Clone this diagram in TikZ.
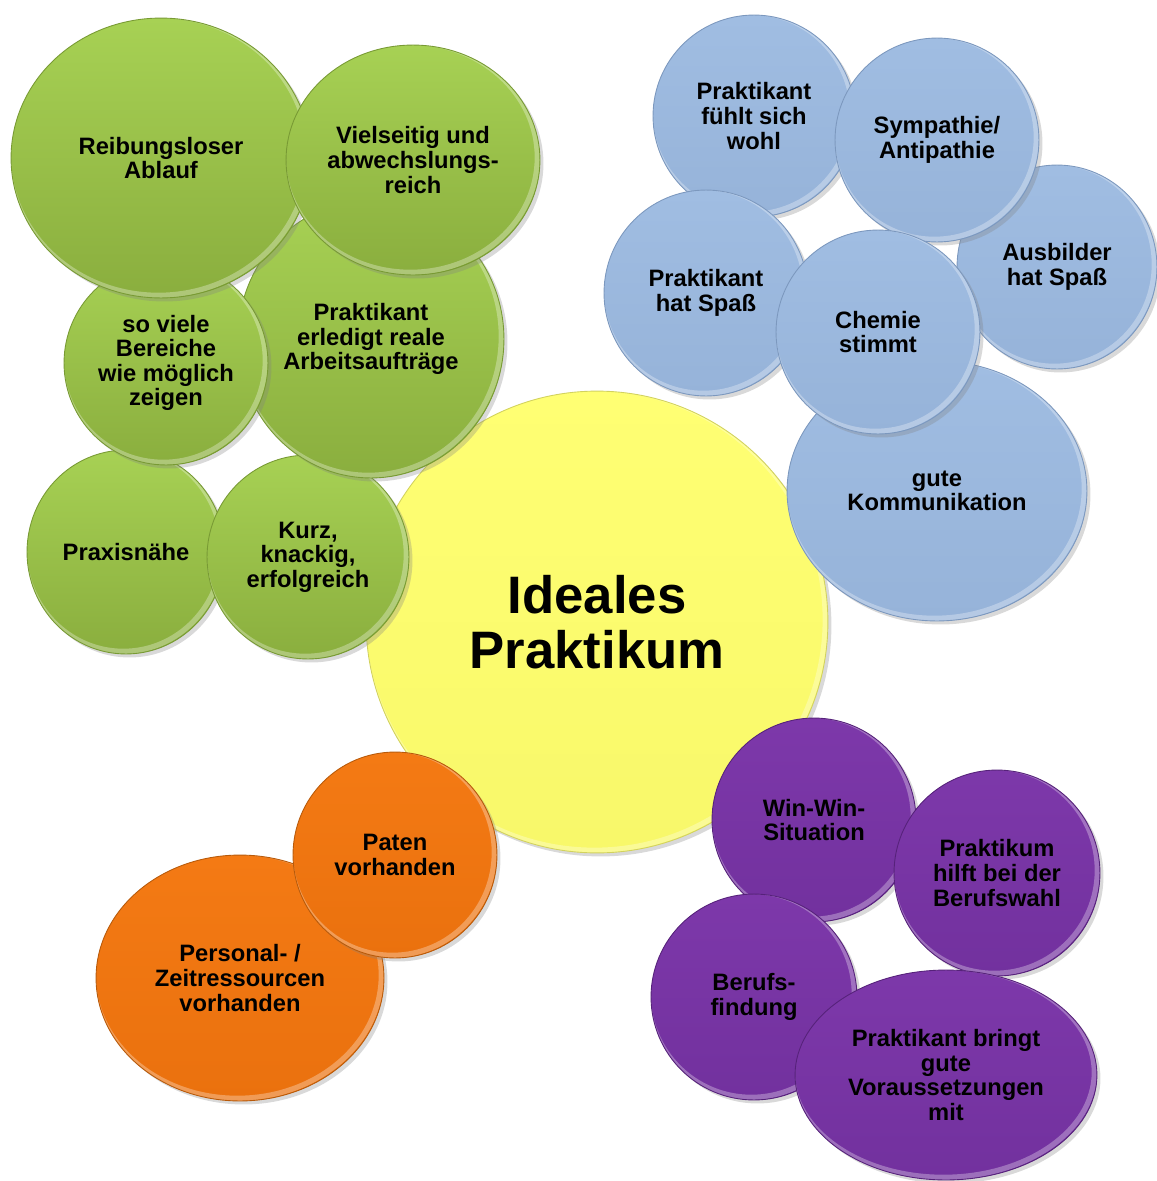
\documentclass[tikz,border=0pt]{standalone}
\usepackage{fontspec}
\setmainfont{Liberation Sans}
\usetikzlibrary{shapes.geometric,shadows,calc}

\definecolor{gelbFill}{HTML}{FFFF73}
\definecolor{gelbUnten}{HTML}{F8F86A}
\definecolor{gelbRand}{HTML}{D2D25E}
\definecolor{gruenOben}{HTML}{A7D154}
\definecolor{gruenUnten}{HTML}{8AAE3E}
\definecolor{gruenRand}{HTML}{789A34}
\definecolor{blauOben}{HTML}{A0BDE2}
\definecolor{blauUnten}{HTML}{96B3D9}
\definecolor{blauRand}{HTML}{7C98BE}
\definecolor{lilaOben}{HTML}{7D38AA}
\definecolor{lilaUnten}{HTML}{72319E}
\definecolor{lilaRand}{HTML}{56227A}
\definecolor{orangeOben}{HTML}{F47A14}
\definecolor{orangeUnten}{HTML}{EA710E}
\definecolor{orangeRand}{HTML}{B85A0A}

\tikzset{
  bubble/.style={ellipse,inner sep=0pt,align=center,line width=.5pt,
    font=\fontsize{13.5}{14}\selectfont\bfseries,
    drop shadow={shadow xshift=2pt,shadow yshift=-2pt,opacity=.3},
    path picture={
      \draw[white,opacity=.3,line width=3pt]
        let \p1=(path picture bounding box.north east),
            \p2=(path picture bounding box.center) in
        (\x2-1.5pt,\y2+1.5pt) ellipse [x radius=\x1-\x2, y radius=\y1-\y2];
    }},
  radii/.style 2 args={minimum width=#1*0.04cm,minimum height=#2*0.04cm},
  gelb/.style={bubble,draw=gelbRand,top color=gelbFill,bottom color=gelbUnten},
  gruen/.style={bubble,draw=gruenRand,top color=gruenOben,bottom color=gruenUnten},
  blau/.style={bubble,draw=blauRand,top color=blauOben,bottom color=blauUnten},
  lila/.style={bubble,draw=lilaRand,top color=lilaOben,bottom color=lilaUnten},
  orange/.style={bubble,draw=orangeRand,top color=orangeOben,bottom color=orangeUnten},
}

\begin{document}
\begin{tikzpicture}[x=0.02cm,y=-0.02cm]
\useasboundingbox (0,0) rectangle (1157,1181);

% Mitte
\node[gelb,radii={231}{231},font=\fontsize{30}{31}\selectfont\bfseries]
  (ideal) at (597,622) {Ideales\\Praktikum};

% Ablauf und Inhalte
\node[gruen,radii={99}{102}]  (praxis) at (126,552) {Praxisnähe};
\node[gruen,radii={101}{102}] (kurz)   at (308,557) {Kurz,\\knackig,\\erfolgreich};
\node[gruen,radii={133}{139}] (real)   at (371,339) {Praktikant\\erledigt reale\\Arbeitsaufträge};
\node[gruen,radii={102}{102}] (bereiche) at (166,363) {so viele\\Bereiche\\wie möglich\\zeigen};
\node[gruen,radii={150}{140}] (ablauf) at (161,158) {Reibungsloser\\Ablauf};
\node[gruen,radii={127}{115}] (vielseitig) at (413,160) {Vielseitig und\\abwechslungs-\\reich};

% Beziehungsebene
\node[blau,radii={150}{130}] (komm)    at (937,491) {gute\\Kommunikation};
\node[blau,radii={101}{101}] (wohl)    at (754,116) {Praktikant\\fühlt sich\\wohl};
\node[blau,radii={100}{102}] (ausbspass) at (1057,267) {Ausbilder\\hat Spaß};
\node[blau,radii={102}{102}] (sympathie) at (937,140) {Sympathie/\\Antipathie};
\node[blau,radii={102}{103}] (prakspass) at (706,293) {Praktikant\\hat Spaß};
\node[blau,radii={102}{102}] (chemie)  at (878,332) {Chemie\\stimmt};

% Nutzen
\node[lila,radii={102}{102}] (winwin)  at (814,820) {Win-Win-\\Situation};
\node[lila,radii={103}{103}] (berufswahl) at (997,873) {Praktikum\\hilft bei der\\Berufswahl};
\node[lila,radii={103}{103}] (findung) at (754,997) {Berufs-\\findung};
\node[lila,radii={151}{105}] (voraus)  at (946,1075) {Praktikant bringt\\gute\\Voraussetzungen\\mit};

% Rahmenbedingungen
\node[orange,radii={144}{123}] (ressourcen) at (240,978) {Personal- /\\Zeitressourcen\\vorhanden};
\node[orange,radii={102}{103}] (paten)  at (395,855) {Paten\\vorhanden};
\end{tikzpicture}
\end{document}
